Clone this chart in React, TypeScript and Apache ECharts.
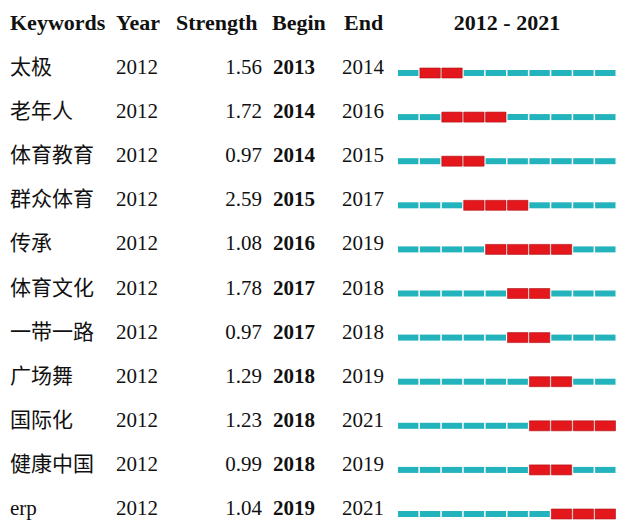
import React, { useEffect, useRef } from "react";
import * as echarts from "echarts";

const headers = ["Keywords", "Year", "Strength", "Begin", "End"];
const rangeLabel = "2012 - 2021";
const keywords = ["太极", "老年人", "体育教育", "群众体育", "传承", "体育文化", "一带一路", "广场舞", "国际化", "健康中国", "erp"];
const years = [2012, 2012, 2012, 2012, 2012, 2012, 2012, 2012, 2012, 2012, 2012];
const strengths = [1.56, 1.72, 0.97, 2.59, 1.08, 1.78, 0.97, 1.29, 1.23, 0.99, 1.04];
const begins = [2013, 2014, 2014, 2015, 2016, 2017, 2017, 2018, 2018, 2018, 2019];
const ends = [2014, 2016, 2015, 2017, 2019, 2018, 2018, 2019, 2021, 2019, 2021];
const startYear = 2012;
const endYear = 2021;

const FONT = '"Liberation Serif", "Times New Roman", "Noto Sans CJK SC", serif';
const TEAL = "#22b3bc";
const RED = "#e3171c";

export default function App() {
  const ref = useRef<HTMLDivElement>(null);
  useEffect(() => {
    document.body.style.margin = "0";
    const chart = echarts.init(ref.current!, null, { renderer: "svg" });
    const data = keywords.map((k, i) => [i, years[i], strengths[i], begins[i], ends[i]]);
    const colX = [10, 116, 176, 272, 344];
    chart.setOption({
      animation: false,
      backgroundColor: "#ffffff",
      grid: { left: 398, right: 0, top: 73, bottom: 7 },
      xAxis: { type: "value", min: startYear, max: endYear + 1, show: false },
      yAxis: { type: "value", min: 0, max: keywords.length - 1, inverse: true, show: false },
      graphic: [
        ...headers.map((h, j) => ({
          type: "text",
          x: colX[j],
          y: 22,
          style: { text: h, font: `bold 22px ${FONT}`, fill: "#111", verticalAlign: "middle" },
        })),
        {
          type: "text",
          x: 507,
          y: 22,
          style: { text: rangeLabel, font: `bold 22px ${FONT}`, fill: "#111", align: "center", verticalAlign: "middle" },
        },
      ],
      series: [
        {
          type: "custom",
          data,
          encode: { x: 3, y: 0 },
          renderItem: (params: any, api: any) => {
            const i = api.value(0);
            const b = api.value(3);
            const e = api.value(4);
            const base = api.coord([startYear, i]);
            const ty = base[1] - 6;
            const children: any[] = [
              { type: "text", style: { text: keywords[i], x: 10, y: ty, font: `21px ${FONT}`, fill: "#111", verticalAlign: "middle" } },
              { type: "text", style: { text: String(api.value(1)), x: 116, y: ty, font: `21px ${FONT}`, fill: "#111", verticalAlign: "middle" } },
              { type: "text", style: { text: Number(api.value(2)).toFixed(2), x: 262, y: ty, font: `21px ${FONT}`, fill: "#111", align: "right", verticalAlign: "middle" } },
              { type: "text", style: { text: String(b), x: 273, y: ty, font: `bold 21px ${FONT}`, fill: "#111", verticalAlign: "middle" } },
              { type: "text", style: { text: String(e), x: 342, y: ty, font: `21px ${FONT}`, fill: "#111", verticalAlign: "middle" } },
            ];
            for (let yr = startYear; yr <= endYear; yr++) {
              const p0 = api.coord([yr, i]);
              const p1 = api.coord([yr + 1, i]);
              const burst = yr >= b && yr <= e;
              const h = burst ? 10 : 6;
              children.push({
                type: "rect",
                shape: { x: p0[0], y: p0[1] - h / 2, width: p1[0] - p0[0] - 1.5, height: h },
                style: burst ? { fill: RED, stroke: "#b01015", lineWidth: 0.6 } : { fill: TEAL },
              });
            }
            return { type: "group", children };
          },
        },
      ],
    });
    return () => chart.dispose();
  }, []);
  return <div ref={ref} style={{ width: 617, height: 521 }} />;
}
